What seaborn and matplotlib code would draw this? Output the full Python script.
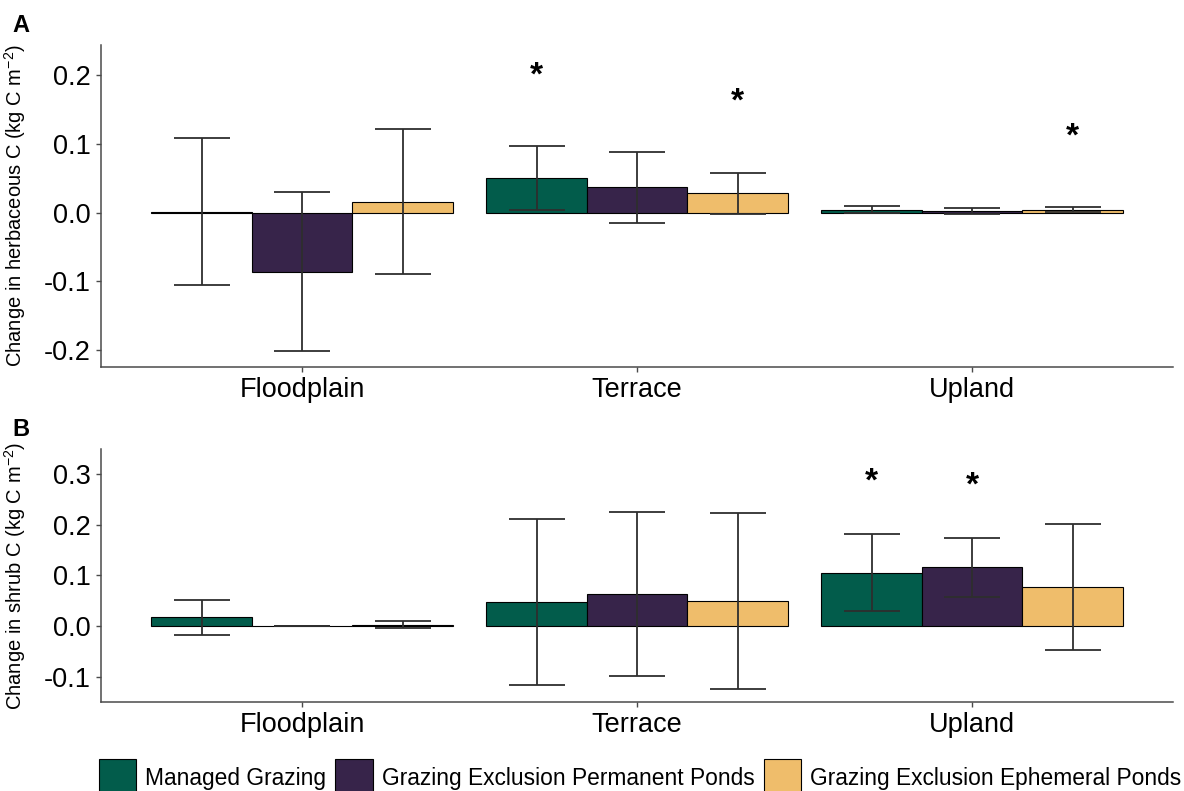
import matplotlib
matplotlib.use("Agg")
import matplotlib.pyplot as plt
from matplotlib.patches import Patch
import numpy as np
import pandas as pd
import seaborn as sns

# ---- data -------------------------------------------------------------
sites = ["Floodplain", "Terrace", "Upland"]
treatments = ["Managed Grazing",
              "Grazing Exclusion Permanent Ponds",
              "Grazing Exclusion Ephemeral Ponds"]
colors = ["#025c4b", "#37244a", "#efbd6b"]

# Panel A: change in herbaceous C (kg C m-2), mean and error per site
herb_mg_mean = [0.001, 0.050, 0.004]
herb_mg_err = [0.107, 0.047, 0.005]
herb_pp_mean = [-0.086, 0.0365, 0.002]
herb_pp_err = [0.116, 0.052, 0.004]
herb_ep_mean = [0.016, 0.028, 0.004]
herb_ep_err = [0.106, 0.030, 0.0037]
herb_mg_sig = [False, True, False]
herb_pp_sig = [False, False, False]
herb_ep_sig = [False, True, True]

# Panel B: change in shrub C (kg C m-2)
shrub_mg_mean = [0.017, 0.047, 0.105]
shrub_mg_err = [0.0346, 0.164, 0.076]
shrub_pp_mean = [0.0, 0.0635, 0.1155]
shrub_pp_err = [0.0, 0.162, 0.0575]
shrub_ep_mean = [0.0028, 0.0485, 0.0775]
shrub_ep_err = [0.0072, 0.1735, 0.124]
shrub_mg_sig = [False, False, True]
shrub_pp_sig = [False, False, True]
shrub_ep_sig = [False, False, False]


def build_frame(means, errs, sigs):
    rows = []
    for trt, m, e, s in zip(treatments, means, errs, sigs):
        for site, mv, ev, sv in zip(sites, m, e, s):
            rows.append({"site": site, "treatment": trt,
                         "mean": mv, "err": ev, "sig": sv})
    return pd.DataFrame(rows)


herb_df = build_frame([herb_mg_mean, herb_pp_mean, herb_ep_mean],
                      [herb_mg_err, herb_pp_err, herb_ep_err],
                      [herb_mg_sig, herb_pp_sig, herb_ep_sig])
shrub_df = build_frame([shrub_mg_mean, shrub_pp_mean, shrub_ep_mean],
                       [shrub_mg_err, shrub_pp_err, shrub_ep_err],
                       [shrub_mg_sig, shrub_pp_sig, shrub_ep_sig])

# ---- style ------------------------------------------------------------
sns.set_theme(style="white")
plt.rcParams["font.family"] = ["Liberation Sans", "DejaVu Sans"]
plt.rcParams["text.color"] = "black"
plt.rcParams["mathtext.fontset"] = "custom"
plt.rcParams["mathtext.rm"] = "Liberation Sans"
plt.rcParams["mathtext.it"] = "Liberation Sans"

W, H = 1184, 791
fig = plt.figure(figsize=(W / 100, H / 100), dpi=100)


def px_axes(left, top, right, bottom):
    return fig.add_axes([left / W, 1 - bottom / H, (right - left) / W, (bottom - top) / H])


ax_a = px_axes(101, 45, 1173, 367)
ax_b = px_axes(101, 449, 1173, 702)


def draw_panel(ax, df, ylim, yticks, ylabel, star_offset):
    sns.barplot(data=df, x="site", y="mean", hue="treatment",
                order=sites, hue_order=treatments, palette=colors,
                saturation=1, width=0.9, errorbar=None,
                edgecolor="black", linewidth=0.8, legend=False, ax=ax)
    for trt, container in zip(treatments, ax.containers):
        sub = df[df["treatment"] == trt].set_index("site").loc[sites]
        xs = [b.get_x() + b.get_width() / 2 for b in container]
        ax.errorbar(xs, sub["mean"], yerr=sub["err"], fmt="none",
                    ecolor="#2e2e2e", elinewidth=1.3, capsize=20,
                    capthick=1.3, zorder=4)
        for x, m, e, s in zip(xs, sub["mean"], sub["err"], sub["sig"]):
            if s:
                ax.text(x, m + e + star_offset, "*", ha="center",
                        va="center", fontsize=24, fontweight="bold",
                        color="black")
    ax.set_xlim(-0.6, 2.6)
    ax.set_ylim(*ylim)
    ax.set_yticks(yticks)
    ax.set_yticklabels([f"{t:.1f}" for t in yticks])
    ax.set_xlabel("")
    ax.set_ylabel(ylabel, fontsize=14.5, color="black")
    ax.yaxis.set_label_coords(-0.068, 0.5)
    for side in ("top", "right"):
        ax.spines[side].set_visible(False)
    for side in ("left", "bottom"):
        ax.spines[side].set_color("#4a4a4a")
        ax.spines[side].set_linewidth(1.1)
    ax.tick_params(axis="both", which="major", labelsize=19.5,
                   labelcolor="black", color="#4a4a4a",
                   length=3.5, width=1.0, pad=4, bottom=True, left=True)


draw_panel(ax_a, herb_df, (-0.2247, 0.2437), [-0.2, -0.1, 0.0, 0.1, 0.2],
           r"Change in herbaceous C (kg C m$^{-2}$)", 0.102)
draw_panel(ax_b, shrub_df, (-0.150, 0.349), [-0.1, 0.0, 0.1, 0.2, 0.3],
           r"Change in shrub C (kg C m$^{-2}$)", 0.102)

fig.text(12 / W, 1 - 25 / H, "A", fontsize=17, fontweight="bold",
         va="center", ha="left", color="black")
fig.text(12 / W, 1 - 429 / H, "B", fontsize=17, fontweight="bold",
         va="center", ha="left", color="black")

handles = [Patch(facecolor=c, edgecolor="black", linewidth=0.8) for c in colors]
fig.legend(handles, treatments, loc="center", ncol=3, frameon=False,
           bbox_to_anchor=(640 / W, 1 - 778 / H), fontsize=16.4,
           handlelength=1.64, handleheight=2.15, handletextpad=0.4,
           columnspacing=0.4, borderpad=0.1)

fig.savefig("out.png", dpi=100, facecolor="white")
